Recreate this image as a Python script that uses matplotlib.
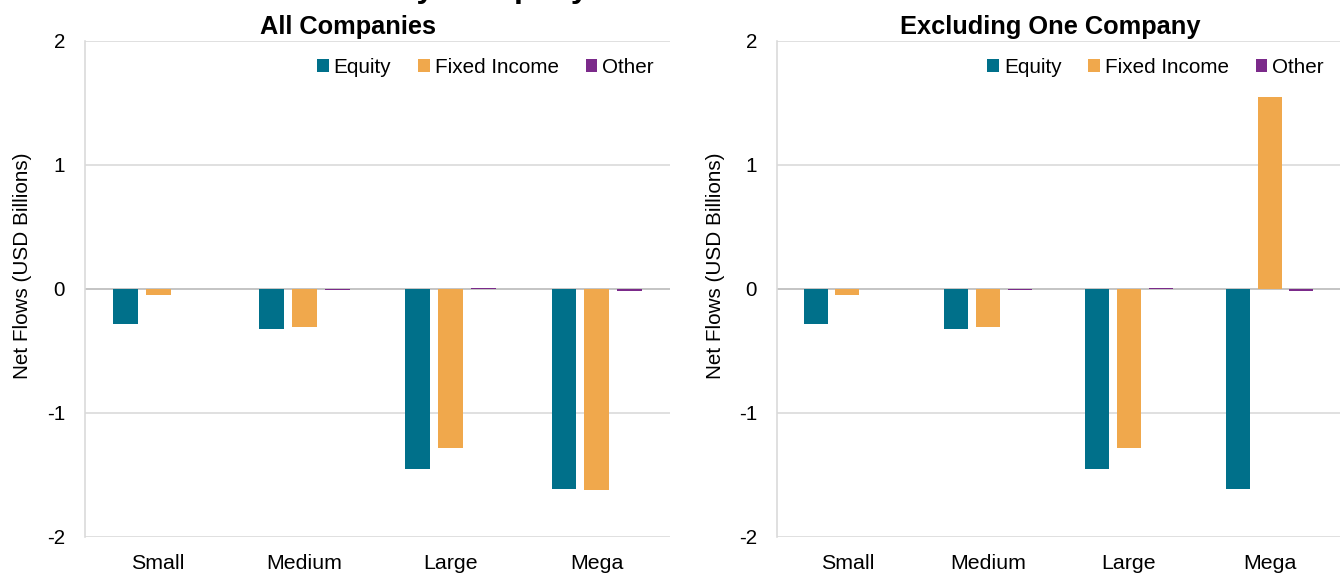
import numpy as np
import matplotlib.pyplot as plt

plt.rcParams['font.family'] = ['Liberation Sans', 'DejaVu Sans']

# Data
categories = ["Small", "Medium", "Large", "Mega"]
series_names = ["Equity", "Fixed Income", "Other"]
colors = ["#00708A", "#F0A84C", "#7B2A8A"]

all_equity = [-0.28, -0.32, -1.45, -1.61]
all_fixed = [-0.05, -0.31, -1.28, -1.62]
all_other = [0.0, -0.01, 0.01, -0.015]

excl_equity = [-0.28, -0.32, -1.45, -1.61]
excl_fixed = [-0.05, -0.31, -1.28, 1.55]
excl_other = [0.0, -0.01, 0.01, -0.015]

panel_titles = ["All Companies", "Excluding One Company"]
y_ticks = [-2, -1, 0, 1, 2]
grid_col = "#D9D9D9"


def draw_panel(ax, values, title, title_x, label_x):
    x = np.arange(len(categories))
    width = 0.17
    offsets = [-0.225, 0.0, 0.225]
    for vals, name, col, off in zip(values, series_names, colors, offsets):
        ax.bar(x + off, vals, width, color=col, label=name, zorder=3)
    ax.set_xlim(-0.5, len(categories) - 0.5)
    ax.set_ylim(-2, 2)
    ax.set_yticks(y_ticks)
    ax.set_yticklabels([str(t) for t in y_ticks], fontsize=15.5)
    ax.set_xticks(x)
    ax.set_xticklabels(categories, fontsize=16)
    ax.tick_params(axis='both', length=0)
    ax.tick_params(axis='y', pad=15)
    ax.tick_params(axis='x', pad=13)
    ax.grid(axis='y', color=grid_col, linewidth=1.2, zorder=0)
    for s in ["top", "right", "bottom"]:
        ax.spines[s].set_visible(False)
    ax.spines["left"].set_color(grid_col)
    ax.spines["left"].set_linewidth(1.2)
    ax.axhline(0, color="#BFBFBF", linewidth=1.2, zorder=2)
    ax.set_ylabel("Net Flows (USD Billions)", fontsize=15.5)
    ax.yaxis.set_label_coords(label_x, 0.546)
    ax.set_title(title, fontsize=19, fontweight='bold', pad=5, x=title_x)
    ax.legend(loc='upper right', ncol=3, frameon=False, fontsize=15.5,
              handlelength=0.55, handleheight=0.55, handletextpad=0.25,
              columnspacing=1.3, bbox_to_anchor=(0.997, 0.995),
              borderaxespad=0.3)


fig = plt.figure(figsize=(14, 5.96875), dpi=96)
ax1 = fig.add_axes([85 / 1344, 1 - 537 / 573, 585 / 1344, 496 / 573])
ax2 = fig.add_axes([777 / 1344, 1 - 537 / 573, 563 / 1344, 496 / 573])

draw_panel(ax1, [all_equity, all_fixed, all_other], panel_titles[0], 0.4496, -0.0906)
draw_panel(ax2, [excl_equity, excl_fixed, excl_other], panel_titles[1], 0.485, -0.092)

# main title mostly cut off at the top edge
fig.text(237 / 1344, 1 + 3 / 573, "Net Flows by Company Size",
         fontsize=24, fontweight='bold', ha='left', va='baseline')

fig.savefig("out.png", dpi=96)
